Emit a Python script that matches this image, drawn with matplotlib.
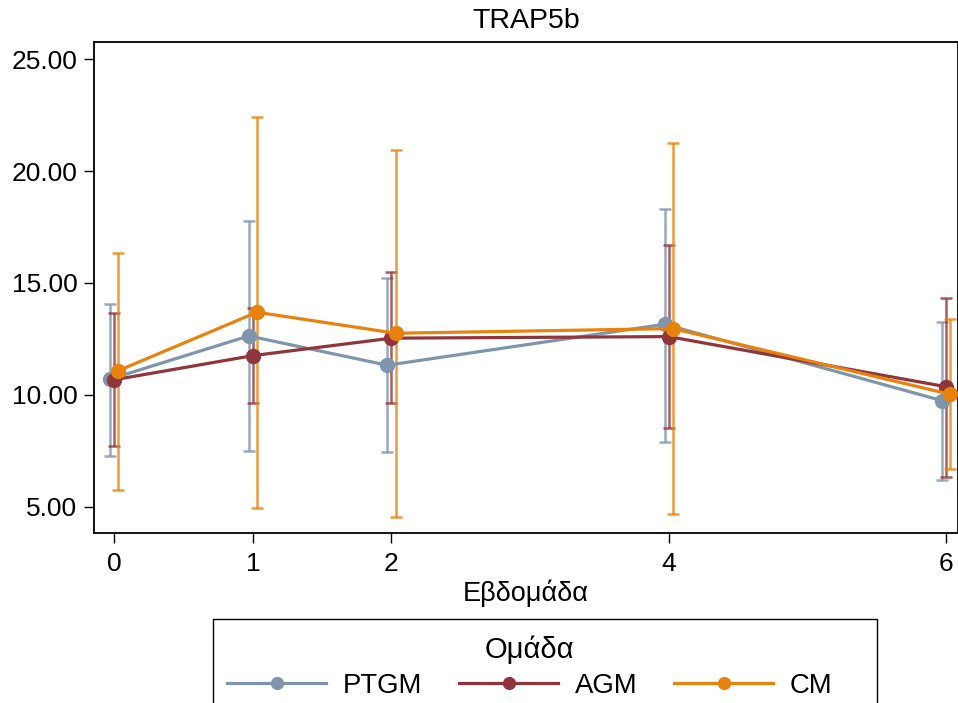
import numpy as np
import matplotlib.pyplot as plt
from matplotlib.patches import Rectangle

plt.rcParams['font.family'] = ['Liberation Sans', 'DejaVu Sans']

weeks = np.array([0, 1, 2, 4, 6])
groups = ['PTGM', 'AGM', 'CM']
colors = ['#7f95ac', '#90353b', '#e8820c']
offsets = [-0.03, 0.0, 0.03]

# mean values and error bar limits
mean = {
    'PTGM': [10.70, 12.63, 11.32, 13.15, 9.74],
    'AGM':  [10.67, 11.75, 12.53, 12.60, 10.36],
    'CM':   [11.08, 13.69, 12.75, 12.96, 10.02],
}
upper = {
    'PTGM': [14.06, 17.79, 15.21, 18.29, 13.27],
    'AGM':  [13.65, 13.87, 15.51, 16.70, 14.32],
    'CM':   [16.34, 22.41, 20.95, 21.24, 13.38],
}
lower = {
    'PTGM': [7.28, 7.50, 7.46, 7.88, 6.19],
    'AGM':  [7.73, 9.65, 9.62, 8.50, 6.34],
    'CM':   [5.75, 4.93, 4.55, 4.66, 6.67],
}
yticks = [5, 10, 15, 20, 25]

W, H = 958, 703
fig = plt.figure(figsize=(W/100, H/100), dpi=100)
ax = fig.add_axes([94/W, 1-533/H, 1-94/W, (533-42)/H])

for g, c, off in zip(groups, colors, offsets):
    x = weeks + off
    m = np.array(mean[g])
    lo = m - np.array(lower[g])
    hi = np.array(upper[g]) - m
    ax.errorbar(x, m, yerr=[lo, hi], fmt='none', ecolor=c, alpha=0.8,
                elinewidth=1.8, capsize=4, capthick=1.8, zorder=2)

for g, c, off in zip(groups, colors, offsets):
    ax.plot(weeks + off, mean[g], '-o', color=c, lw=2.3, markersize=10,
            label=g, zorder=3)

ax.set_xlim(-0.146, 6.087)
ax.set_ylim(3.82, 25.77)
ax.set_xticks(weeks)
ax.set_yticks(yticks)
ax.set_yticklabels([f'{v:.2f}' for v in yticks])
ax.tick_params(labelsize=19, length=7, width=1, pad=5)
ax.tick_params(axis='x', pad=7)
for s in ax.spines.values():
    s.set_linewidth(1.3)
ax.set_xlabel('Εβδομάδα', fontsize=19.5, labelpad=2)
ax.set_title('TRAP5b', fontsize=20.5, pad=10)

# legend without its own frame; frame drawn separately (wider than entries)
leg = fig.legend(loc='upper left', bbox_to_anchor=(227/W, 1-636/H),
                 ncol=3, title='Ομάδα', fontsize=19.8, title_fontsize=21,
                 handlelength=3.6, handletextpad=0.6, columnspacing=1.35,
                 markerscale=0.85, frameon=False, borderpad=0,
                 borderaxespad=0, labelspacing=0.3)
fig.add_artist(Rectangle((213/W, -0.05), (877-213)/W, 0.05 + 1-619/H,
                         transform=fig.transFigure, fill=False,
                         ec='black', lw=1.0))

fig.savefig('out.png', dpi=100)
